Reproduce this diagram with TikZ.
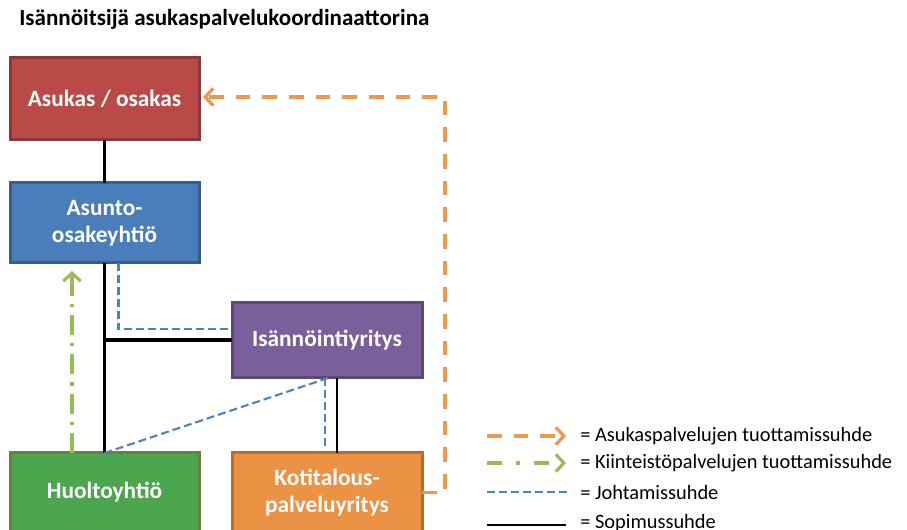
\documentclass[tikz,border=0pt]{standalone}
\usepackage{fontspec}
\setmainfont{Carlito}
\usetikzlibrary{arrows.meta}
\definecolor{redfill}{HTML}{B94A48}
\definecolor{redline}{HTML}{8C3836}
\definecolor{bluefill}{HTML}{4A7EBB}
\definecolor{blueline}{HTML}{385D8A}
\definecolor{purplefill}{HTML}{7A5F9A}
\definecolor{purpleline}{HTML}{5C4776}
\definecolor{greenfill}{HTML}{4CA64F}
\definecolor{greenline}{HTML}{6E7F3C}
\definecolor{orangefill}{HTML}{EB9244}
\definecolor{orangeline}{HTML}{B66D31}
\definecolor{orangedash}{HTML}{F0974A}
\definecolor{greendash}{HTML}{9BBB59}
\definecolor{bluedash}{HTML}{4F81BD}
\tikzset{
  orgbox/.style={draw, line width=2.25pt, outer sep=0pt, minimum width=141.75pt,
    text=white, font=\fontsize{17.5}{20.5}\selectfont\bfseries, align=center},
  contract/.style={draw=black, line width=2pt},
  managing/.style={draw=bluedash, line width=1.6pt, dash pattern=on 6pt off 3pt},
  residentsvc/.style={draw=orangedash, line width=2.4pt, dash pattern=on 11pt off 9pt},
  propertysvc/.style={draw=greendash, line width=2.4pt, dash pattern=on 15pt off 6pt on 2.5pt off 6pt},
  chev/.tip={Straight Barb[length=6pt, width=13pt, line width=2.4pt]},
  legendtext/.style={anchor=west, inner sep=0pt, font=\fontsize{15.3}{18}\selectfont},
}
\begin{document}
\begin{tikzpicture}[x=0.75pt, y=-0.75pt]
\useasboundingbox (0,0) rectangle (907,530);
\clip (0,0) rectangle (907,530);

% title
\node[anchor=west, inner sep=0pt, font=\fontsize{17.3}{20}\selectfont\bfseries] (title) at (19,19)
  {Isännöitsijä asukaspalvelukoordinaattorina};

% organisation boxes
\node[orgbox, fill=redfill, draw=redline, minimum height=61.5pt] (asukas) at (104.5,99) {Asukas / osakas};
\node[orgbox, fill=bluefill, draw=blueline, minimum height=60pt] (asunto) at (104.5,223) {Asunto-\\osakeyhtiö};
\node[orgbox, fill=purplefill, draw=purpleline, minimum width=142.5pt, minimum height=56.25pt] (isan) at (327,340.5) {Isännöintiyritys};
\node[orgbox, fill=greenfill, draw=greenline, minimum height=59.25pt] (huolto) at (104.5,492.5) {Huoltoyhtiö};
\node[orgbox, fill=orangefill, draw=orangeline, minimum width=142.5pt, minimum height=59.25pt] (koti) at (327,492.5) {Kotitalous-\\palveluyritys};

% contracts
\draw[contract] (asukas.south) -- (asunto.north);
\draw[contract] (asunto.south) -- (huolto.north);
\draw[contract, line width=3pt] (isan.west) -- (isan.west -| asunto.south);
\draw[contract] ([xshift=7.5pt]isan.south) -- ([xshift=7.5pt]koti.north);

% management
\draw[managing] ([xshift=10.5pt]asunto.south) |- ([yshift=8.6pt]isan.west);
\draw[managing] ([xshift=0.8pt]isan.south) -- (huolto.north);
\draw[managing] ([xshift=-1.5pt]isan.south) -- ([xshift=-1.5pt,yshift=3.5pt]koti.north);

% property services
\draw[propertysvc, -chev, shorten >=6pt] ([xshift=-24.4pt]huolto.north) -- ([xshift=-24.4pt]asunto.south);

% resident services
\coordinate (rc) at (445,97);
\draw[residentsvc, -chev, shorten >=3pt] (koti.east) -- (koti.east -| rc) -- (rc) -- (asukas.east |- rc);

% legend
\coordinate (l1a) at (487,436); \coordinate (l1b) at (566,436);
\coordinate (l2a) at (487,463); \coordinate (l2b) at (566,463);
\coordinate (l3a) at (487,492); \coordinate (l3b) at (567,492);
\coordinate (l4a) at (487,525); \coordinate (l4b) at (566,525);
\draw[residentsvc, dash pattern=on 11pt off 9pt, -chev] (l1a) -- (l1b);
\draw[propertysvc, dash pattern=on 11pt off 11pt on 2.5pt off 11pt, -chev] (l2a) -- (l2b);
\draw[managing] (l3a) -- (l3b);
\draw[contract] (l4a) -- (l4b);
\node[legendtext] (t1) at (580,436) {= Asukaspalvelujen tuottamissuhde};
\node[legendtext] (t2) at (580,463) {= Kiinteistöpalvelujen tuottamissuhde};
\node[legendtext] (t3) at (580,492) {= Johtamissuhde};
\node[legendtext] (t4) at (580,523) {= Sopimussuhde};
\end{tikzpicture}
\end{document}
